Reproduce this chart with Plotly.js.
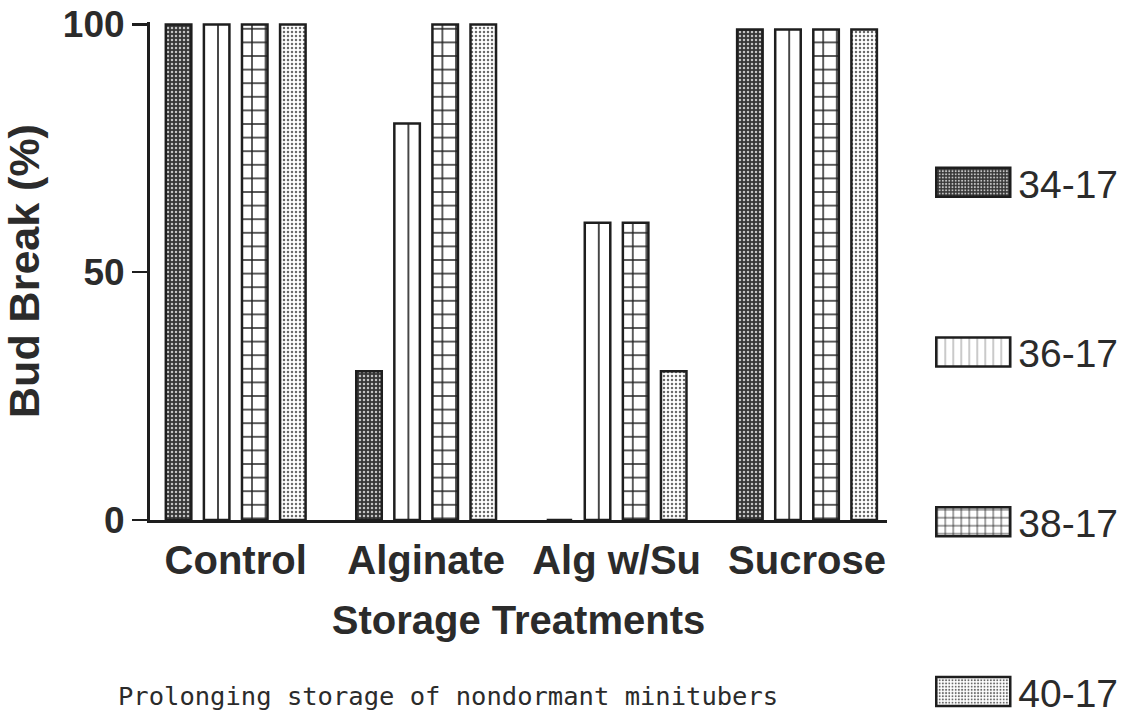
<!DOCTYPE html>
<html><head><meta charset="utf-8">
<script src="https://cdn.plot.ly/plotly-3.0.1.min.js"></script>
<style>html,body{margin:0;padding:0;background:#fff;} #chart{width:1127px;height:715px;}</style>
</head><body><div id="chart"></div>
<script>
const categories = ['Control', 'Alginate', 'Alg w/Su', 'Sucrose'];
const seriesNames = ['34-17', '36-17', '38-17', '40-17'];
const s3417 = [100, 30, 0, 99];
const s3617 = [100, 80, 60, 99];
const s3817 = [100, 100, 60, 99];
const s4017 = [100, 100, 30, 99];
const yTickVals = [0, 50, 100];
const yTickText = ['0', '50', '100'];
const xTitle = 'Storage Treatments';
const yTitle = 'Bud Break (%)';
const caption = 'Prolonging storage of nondormant minitubers';

const seriesValues = [s3417, s3617, s3817, s4017];
const patterns = [
  {shape: '.', bgcolor: '#363636', fgcolor: '#c4c4c4', size: 4, solidity: 0.3, fillmode: 'replace'},
  {shape: '|', bgcolor: '#ffffff', fgcolor: '#222222', size: 27.2, solidity: 0.06, fillmode: 'replace'},
  {shape: '+', bgcolor: '#ffffff', fgcolor: '#222222', size: 13.6, solidity: 0.2, fillmode: 'replace'},
  {shape: '.', bgcolor: '#ffffff', fgcolor: '#6a6a6a', size: 4, solidity: 0.3, fillmode: 'replace'}
];
const FONT = 'Liberation Sans, Arial, sans-serif';

const traces = seriesNames.map((name, i) => ({
  type: 'bar',
  name: name,
  x: categories,
  y: seriesValues[i],
  legendgroup: 'g' + i,
  marker: {color: '#ffffff', line: {color: '#1e1e1e', width: 2.5}, pattern: patterns[i]},
  hoverinfo: 'x+y+name'
}));

const layout = {
  width: 1127, height: 715,
  margin: {l: 150, r: 240, t: 22, b: 195, autoexpand: false},
  paper_bgcolor: '#ffffff', plot_bgcolor: '#ffffff',
  barmode: 'group', bargap: 0.2, bargroupgap: 0.33,
  font: {family: FONT, color: '#2b2b2b'},
  showlegend: true,
  xaxis: {
    range: [-0.45, 3.42], showline: true, linecolor: '#1e1e1e', linewidth: 3,
    ticks: '', showgrid: false, zeroline: false,
    tickfont: {size: 40, family: FONT, weight: 'bold', color: '#2b2b2b'},
    ticklabelstandoff: 3,
    title: {text: xTitle, font: {size: 40, family: FONT, weight: 'bold', color: '#2b2b2b'}, standoff: 25}
  },
  yaxis: {
    range: [0, 100.5], tickvals: yTickVals, ticktext: yTickText,
    showline: true, linecolor: '#1e1e1e', linewidth: 3,
    ticks: 'outside', ticklen: 15, tickwidth: 2.5, tickcolor: '#1e1e1e',
    showgrid: false, zeroline: false,
    tickfont: {size: 37, family: FONT, weight: 'bold', color: '#2b2b2b'},
    title: {text: yTitle, font: {size: 43, family: FONT, weight: 'bold', color: '#2b2b2b'}, standoff: 12}
  },
  legend: {
    x: 1.056, xanchor: 'left', y: 0.742, yanchor: 'top',
    font: {size: 39, family: FONT, color: '#2b2b2b'},
    itemwidth: 80, tracegroupgap: 116, bgcolor: 'rgba(0,0,0,0)',
    maxheight: 2000
  },
  annotations: [{
    text: caption, xref: 'paper', yref: 'paper', x: 0.405, y: -0.353,
    xanchor: 'center', yanchor: 'middle', showarrow: false,
    font: {family: 'DejaVu Sans Mono, Liberation Mono, monospace', size: 25.5, color: '#2b2b2b'}
  }]
};

function fixLegend() {
  document.querySelectorAll('#chart .legend .legendpoints path').forEach(p => {
    p.setAttribute('d', 'M-37,-14.5H37V14.5H-37Z');
    p.style.strokeWidth = '2.5px';
  });
}

const gd = document.getElementById('chart');
Plotly.newPlot(gd, traces, layout, {displayModeBar: false, staticPlot: true}).then(() => {
  fixLegend();
  gd.on('plotly_afterplot', fixLegend);
});
</script>
</body></html>
